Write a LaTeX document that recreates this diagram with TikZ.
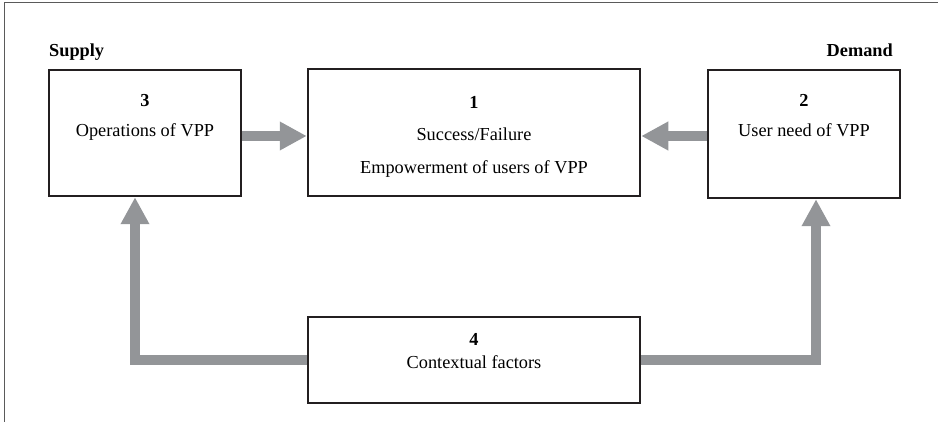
\documentclass[tikz,border=0pt]{standalone}
\usepackage{fontspec}
\setmainfont{Liberation Serif}
\usetikzlibrary{arrows.meta}
\definecolor{boxline}{RGB}{35,31,32}
\definecolor{flow}{RGB}{147,149,152}
\definecolor{frameline}{RGB}{90,90,90}
\begin{document}
\begin{tikzpicture}[x=1pt,y=-1pt,
  box/.style={draw=boxline, line width=2.5pt, inner sep=0pt, fill=white},
  txt/.style={anchor=base, inner sep=0pt, font=\fontsize{18.3}{22}\selectfont},
  bold/.style={txt, font=\fontsize{18.3}{22}\selectfont\bfseries},
  flowarrow/.style={draw=flow, line width=10.5pt,
    -{Triangle[length=27pt,width=27pt]}}]
  \useasboundingbox (0,0) rectangle (938,422);

  % frame edges
  \draw[frameline, line width=1pt] (938,3) -- (4,3) -- (4,422);

  % side labels
  \node[bold, anchor=base west] (supply) at (49,57) {Supply};
  \node[bold, anchor=base east] (demand) at (893,57) {Demand};

  % boxes
  \node[box, minimum width=192pt, minimum height=126pt] (b3) at (145,133) {};
  \node[box, minimum width=332pt, minimum height=127pt] (b1) at (474,132.5) {};
  \node[box, minimum width=192pt, minimum height=128pt] (b2) at (804,134) {};
  \node[box, minimum width=332pt, minimum height=86pt]  (b4) at (474,360) {};

  % box texts
  \node[bold] (n3) at (145,107) {3};
  \node[txt]  (t3) at (145,137) {Operations of VPP};
  \node[bold] (n1) at (474,109) {1};
  \node[txt]  (t1a) at (474,141) {Success/Failure};
  \node[txt]  (t1b) at (474,174) {Empowerment of users of VPP};
  \node[bold] (n2) at (804,107) {2};
  \node[txt]  (t2) at (804,137) {User need of VPP};
  \node[bold] (n4) at (474,345) {4};
  \node[txt]  (t4) at (474,368) {Contextual factors};

  % flows
  \draw[flowarrow] ([yshift=-3pt]b3.east) -- ([yshift=-3.5pt]b1.west);
  \draw[flowarrow] ([yshift=-2pt]b2.west) -- ([yshift=-3.5pt]b1.east);
  \draw[flowarrow] (b4.west) -| ([xshift=-10pt]b3.south);
  \draw[flowarrow] (b4.east) -| ([xshift=12pt]b2.south);
\end{tikzpicture}
\end{document}
